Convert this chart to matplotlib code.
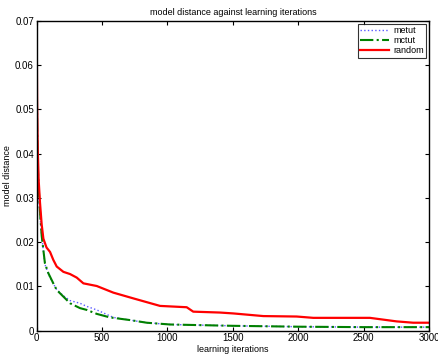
import matplotlib
matplotlib.use("Agg")
import matplotlib.pyplot as plt

plt.rcParams['font.family'] = ['Liberation Sans', 'DejaVu Sans']

# iterations and values
red_x = [0, 3, 8, 15, 25, 38, 51, 75, 102, 127, 153, 204, 255, 306, 357, 459, 586, 739, 943, 1147, 1197, 1401, 1503, 1733, 1988, 2115, 2548, 2752, 2879, 3000]
red_y = [0.069, 0.052, 0.041, 0.034, 0.029, 0.024, 0.0208, 0.0188, 0.0178, 0.0160, 0.0145, 0.0133, 0.0128, 0.0120, 0.0107, 0.0101, 0.0086, 0.0073, 0.0056, 0.0053, 0.0043, 0.0041, 0.0039, 0.0033, 0.0032, 0.0029, 0.0029, 0.0021, 0.0018, 0.0018]

green_x = [0, 3, 8, 12, 25, 38, 63, 89, 127, 153, 204, 255, 331, 382, 459, 560, 713, 841, 1019, 1500, 2000, 2500, 3000]
green_y = [0.068, 0.045, 0.038, 0.034, 0.027, 0.0215, 0.0152, 0.0130, 0.0107, 0.0092, 0.0077, 0.0062, 0.0051, 0.0047, 0.0038, 0.0030, 0.0024, 0.0018, 0.0014, 0.0011, 0.0009, 0.0008, 0.0008]

blue_x = [0, 3, 8, 12, 25, 38, 63, 89, 127, 153, 204, 255, 331, 382, 459, 586, 713, 841, 1019, 1500, 2000, 2500, 3000]
blue_y = [0.068, 0.044, 0.036, 0.032, 0.026, 0.0215, 0.0150, 0.0128, 0.0106, 0.0093, 0.0079, 0.0068, 0.0062, 0.0055, 0.0047, 0.0030, 0.0024, 0.0018, 0.0014, 0.0011, 0.0009, 0.0008, 0.0008]

xticks = [0, 500, 1000, 1500, 2000, 2500, 3000]
yticks = [0, 0.01, 0.02, 0.03, 0.04, 0.05, 0.06, 0.07]
ylabels = ['0', '0.01', '0.02', '0.03', '0.04', '0.05', '0.06', '0.07']

fig = plt.figure(figsize=(4.38, 3.55), dpi=100)
ax = fig.add_axes([0.0838, 0.0685, 0.8957, 0.8723])

ax.plot(blue_x, blue_y, linestyle=':', color='#5a5aff', linewidth=1.0, label='metut')
ax.plot(green_x, green_y, linestyle='-.', color='#008000', linewidth=1.5, label='mctut')
ax.plot(red_x, red_y, linestyle='-', color='#ff0000', linewidth=1.6, label='random')

ax.set_xlim(0, 3000)
ax.set_ylim(0, 0.07)
ax.set_xticks(xticks)
ax.set_xticklabels([str(t) for t in xticks])
ax.set_yticks(yticks)
ax.set_yticklabels(ylabels)
ax.tick_params(direction='in', top=True, right=True, labelsize=7, length=3, width=0.8, pad=2)
for s in ax.spines.values():
    s.set_linewidth(1.0)

ax.set_title('model distance against learning iterations', fontsize=6.5, pad=4)
ax.set_xlabel('learning iterations', fontsize=6.5, labelpad=1)
ax.set_ylabel('model distance', fontsize=6.5, labelpad=2)

leg = ax.legend(loc='upper right', fontsize=6.5, frameon=True, fancybox=False,
                edgecolor='black', borderpad=0.3, labelspacing=0.1, handlelength=3.2,
                handletextpad=0.4, borderaxespad=0.3)
leg.get_frame().set_linewidth(0.8)

fig.savefig('out.png', dpi=100)
